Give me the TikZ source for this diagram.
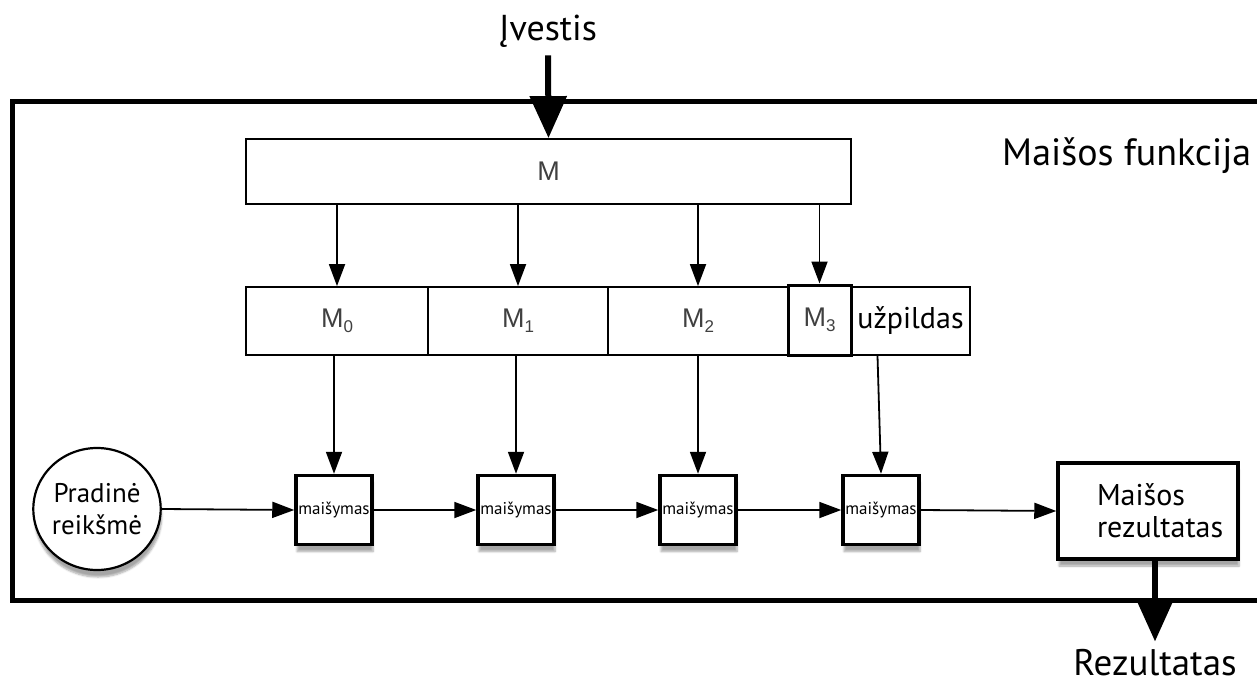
\documentclass[tikz,border=0pt]{standalone}
\usepackage{fontspec}
\setmainfont{PT Sans}
\newfontfamily\helv{Liberation Sans}
\usetikzlibrary{arrows.meta,shadows.blur,shapes.geometric}
\begin{document}
\begin{tikzpicture}[x=1pt,y=-1pt,
  bigtxt/.style={font=\fontsize{36}{40}\selectfont, inner sep=0pt},
  thinbox/.style={draw, line width=1.8pt, inner sep=0pt, fill=white},
  mlabel/.style={font=\helv\fontsize{27}{30}\selectfont\color{black!75}},
  mixbox/.style={draw, line width=3.5pt, fill=white, minimum width=76pt, minimum height=69pt, inner sep=0pt,
     font=\fontsize{17}{19}\selectfont, blur shadow={shadow xshift=1pt, shadow yshift=-7pt, shadow opacity=35, shadow blur steps=6}},
  arr/.style={line width=1.8pt, -{Triangle[length=22pt,width=16pt]}},
  fat/.style={line width=6pt, -{Triangle[length=42pt,width=36pt]}},
]
\useasboundingbox (0,0) rectangle (1257,688);
\newcommand{\msub}[1]{\raisebox{-5pt}{\fontsize{17}{17}\selectfont #1}}
% outer frame (open on the right)
\draw[line width=5pt] (1260,101) -- (12,101) -- (12,600) -- (1260,600);
\node[bigtxt, font=\fontsize{38}{42}\selectfont, anchor=west] (title) at (1002,156) {Maišos funkcija};

% input
\node[bigtxt] (in) at (548,31) {Įvestis};
\node[thinbox, minimum width=605pt, minimum height=65pt, mlabel] (M) at (548.5,171.5) {M};
\draw[fat] (in.south) ++(0,8) -- (M.north);

% segments
\node[thinbox, minimum width=182pt, minimum height=68pt, mlabel] (s0) at (337,321) {M\msub{0}};
\node[thinbox, minimum width=180pt, minimum height=68pt, mlabel] (s1) at (518,321) {M\msub{1}};
\node[thinbox, minimum width=180pt, minimum height=68pt, mlabel] (s2) at (698,321) {M\msub{2}};
\node[thinbox, minimum width=119pt, minimum height=68pt, font=\fontsize{30}{32}\selectfont] (pad) at (910.5,321) {užpildas};
\node[thinbox, line width=3pt, minimum width=63pt, minimum height=70pt, mlabel] (s3) at (819.5,320) {M\msub{3}};

\draw[arr] (M.south -| s0) -- (s0.north);
\draw[arr] (M.south -| s1) -- (s1.north);
\draw[arr] (M.south -| s2) -- (s2.north);
\draw[arr] (M.south -| s3) -- (s3.north);

% mixing chain
\node[ellipse, draw, line width=2.2pt, fill=white, minimum width=118pt, minimum height=122pt, inner sep=0pt,
  align=center, font=\fontsize{27}{32}\selectfont,
  blur shadow={shadow xshift=1pt, shadow yshift=-7pt, shadow opacity=35, shadow blur steps=6}] (init) at (97,509) {Pradinė\\reikšmė};
\node[mixbox] (x0) at (334,510) {maišymas};
\node[mixbox] (x1) at (516,510) {maišymas};
\node[mixbox] (x2) at (698,510) {maišymas};
\node[mixbox] (x3) at (881,510) {maišymas};
\node[draw, line width=3.5pt, fill=white, minimum width=180pt, minimum height=96pt, inner sep=0pt,
  text width=176pt, align=left, font=\fontsize{30}{32}\selectfont,
  blur shadow={shadow xshift=1pt, shadow yshift=-7pt, shadow opacity=35, shadow blur steps=6}] (res) at (1148,511) {\hspace*{37pt}Maišos\\\hspace*{37pt}rezultatas};

\draw[arr] (s0.south -| x0) -- (x0.north);
\draw[arr] (s1.south -| x1) -- (x1.north);
\draw[arr] (s2.south -| x2) -- (x2.north);
\draw[arr] ([xshift=-33pt]pad.south) -- (x3.north);

\draw[arr] (init.east) -- (x0.west);
\draw[arr] (x0.east) -- (x1.west);
\draw[arr] (x1.east) -- (x2.west);
\draw[arr] (x2.east) -- (x3.west);
\draw[arr] (x3.east) -- (res.west);

% output
\node[bigtxt, font=\fontsize{37}{40}\selectfont] (out) at (1155,663) {Rezultatas};
\draw[fat] ([xshift=7pt]res.south) -- ([yshift=8pt]out.north);
\end{tikzpicture}
\end{document}
